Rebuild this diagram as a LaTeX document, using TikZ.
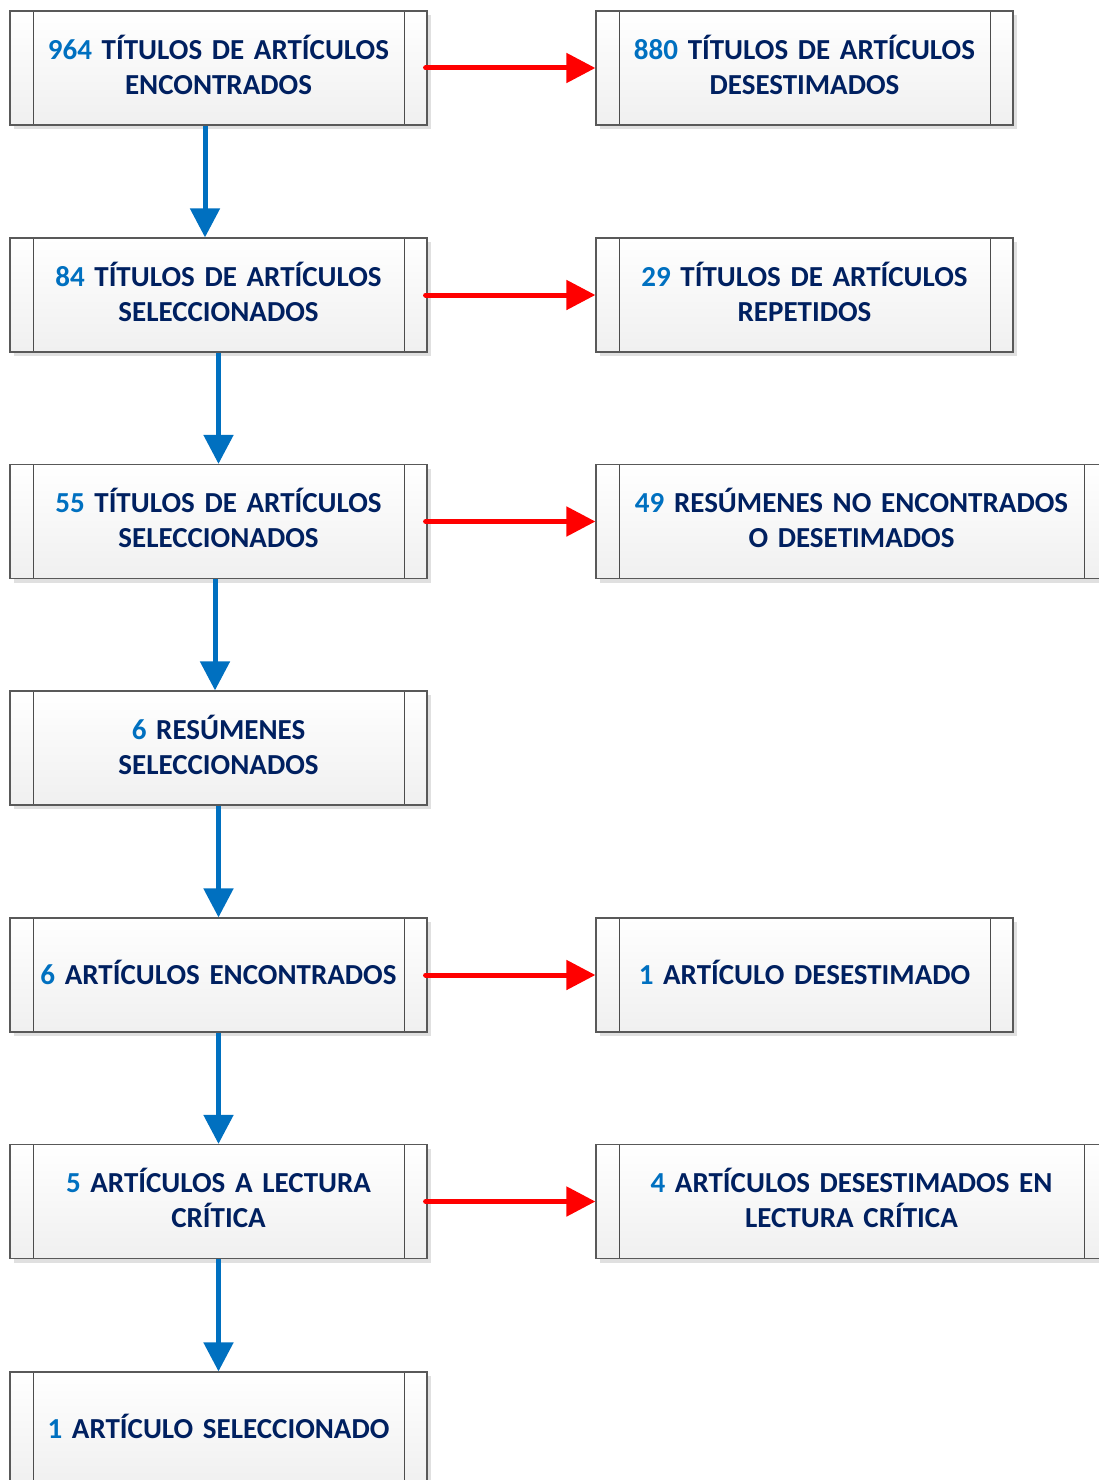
\documentclass[tikz,border=0pt]{standalone}
\usepackage{fontspec}
\setmainfont{Carlito}[WordSpace=0.85]
\usetikzlibrary{arrows.meta,shadows}

\definecolor{numblue}{HTML}{0070C0}
\definecolor{textnavy}{HTML}{002060}
\definecolor{boxline}{HTML}{595959}

\tikzset{
  procbox/.style={rectangle, draw=boxline, line width=1.2pt,
    top color=white, bottom color=black!6,
    minimum height=114pt, text width=#1-50pt, minimum width=#1,
    align=center, text=textnavy, text depth=42pt,
    font=\fontsize{29}{35}\selectfont\bfseries,
    drop shadow={shadow xshift=4pt, shadow yshift=-4pt, fill=black!12, opacity=1},
    path picture={
      \draw[black!70, line width=1pt]
        ([xshift=23pt]path picture bounding box.north west) --
        ([xshift=23pt]path picture bounding box.south west);
      \draw[black!70, line width=1pt]
        ([xshift=-23pt]path picture bounding box.north east) --
        ([xshift=-23pt]path picture bounding box.south east);
    }},
  procbox/.default=417pt,
  oneline/.style={text depth=5pt},
  downarrow/.style={draw=numblue, line width=5pt,
    -{Triangle[length=29pt,width=29pt]}},
  sidearrow/.style={draw=red, line width=5pt, line cap=round,
    -{Triangle[length=29pt,width=29pt]}}
}
\newcommand{\num}[1]{\textcolor{numblue}{#1}}

\begin{document}
\begin{tikzpicture}[x=1pt,y=1pt]
    \useasboundingbox (0,0) rectangle (1098,-1480);

    % left column
    \node[procbox] (t964) at (218.5,-68)   {\num{964} TÍTULOS DE ARTÍCULOS\\ENCONTRADOS};
    \node[procbox] (t84)  at (218.5,-295)  {\num{84} TÍTULOS DE ARTÍCULOS\\SELECCIONADOS};
    \node[procbox] (t55)  at (218.5,-521.5){\num{55} TÍTULOS DE ARTÍCULOS\\SELECCIONADOS};
    \node[procbox] (r6)   at (218.5,-748)  {\num{6} RESÚMENES\\SELECCIONADOS};
    \node[procbox,oneline] (a6) at (218.5,-975) {\num{6} ARTÍCULOS ENCONTRADOS};
    \node[procbox] (a5)   at (218.5,-1201.5){\num{5} ARTÍCULOS A LECTURA\\CRÍTICA};
    \node[procbox,oneline] (a1) at (218.5,-1429) {\num{1} ARTÍCULO SELECCIONADO};

    % right column
    \node[procbox] (t880) at (804.5,-68)   {\num{880} TÍTULOS DE ARTÍCULOS\\DESESTIMADOS};
    \node[procbox] (t29)  at (804.5,-295)  {\num{29} TÍTULOS DE ARTÍCULOS\\REPETIDOS};
    \node[procbox=511pt] (r49) at (851.5,-521.5){\num{49} RESÚMENES NO ENCONTRADOS\\O DESETIMADOS};
    \node[procbox,oneline] (d1) at (804.5,-975) {\num{1} ARTÍCULO DESESTIMADO};
    \node[procbox=511pt] (d4) at (851.5,-1201.5){\num{4} ARTÍCULOS DESESTIMADOS EN\\LECTURA CRÍTICA};

    \draw[downarrow] ([xshift=-13.5pt]t964.south) -- ([xshift=-13.5pt]t84.north);
    \draw[downarrow] ([xshift=-3.5pt]t55.south) -- ([xshift=-3.5pt]r6.north);
    \foreach \from/\to in {t84/t55,r6/a6,a6/a5,a5/a1}
    \draw[downarrow] (\from.south) -- (\to.north);

    \foreach \from/\to in {t964/t880,t84/t29,t55/r49,a6/d1,a5/d4}
    \draw[sidearrow] ([xshift=-2pt]\from.east) -- (\to.west);
\end{tikzpicture}
\end{document}
